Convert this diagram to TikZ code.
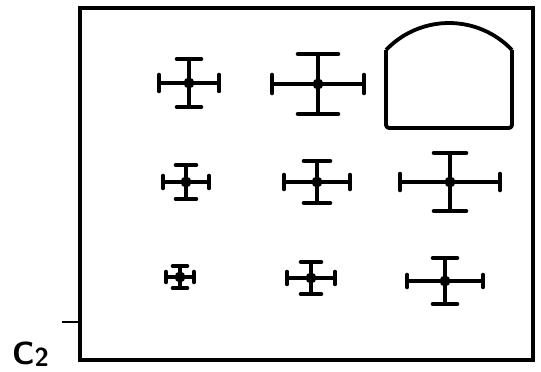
\documentclass[tikz,border=0pt]{standalone}
\begin{document}
\begin{tikzpicture}[x=1pt,y=-1pt,
  armline/.style={line width=3.4pt,line cap=round},
  capline/.style={line width=4.6pt,line cap=round},
  frameline/.style={line width=4.8pt},
  archline/.style={line width=3.8pt,line join=round}]
\useasboundingbox (0,0) rectangle (541,372);
% cross: x, y, half width, half height, top cap half, side cap half
\newcommand{\xcross}[6]{%
  \draw[armline] (#1-#3,#2) -- (#1+#3,#2);
  \draw[armline] (#1,#2-#4) -- (#1,#2+#4);
  \draw[capline] (#1-#5,#2-#4) -- (#1+#5,#2-#4);
  \draw[capline] (#1-#5,#2+#4) -- (#1+#5,#2+#4);
  \draw[capline] (#1-#3,#2-#6) -- (#1-#3,#2+#6);
  \draw[capline] (#1+#3,#2-#6) -- (#1+#3,#2+#6);
  \fill (#1,#2) circle (5.5);
}
\draw[frameline] (80,8) rectangle (533,360);
\draw[line width=1.2pt] (62,322) -- (78,322);
\node[anchor=base west,inner sep=0pt,font=\fontsize{32}{32}\selectfont\sffamily\bfseries] (lbl) at (12,364) {C\raisebox{-0.2ex}{\fontsize{26}{26}\selectfont 2}};
% arch
\draw[archline,rounded corners=3pt] (386,50) -- (386,128) -- (512,128) -- (512,50);
\draw[archline] (386,50) arc[start angle=223.6,end angle=316.4,radius=87];
% crosses
\xcross{189}{83}{30}{24}{12}{8}
\xcross{318}{84}{46}{30}{20}{9}
\xcross{186}{182}{23}{17}{10}{6}
\xcross{317}{182}{33}{21}{13}{7}
\xcross{450}{182}{50}{29}{16}{8}
\xcross{180}{277}{14}{11}{7}{5}
\xcross{311}{278}{24}{16}{10}{6}
\xcross{445}{281}{38}{23}{12}{6}
\end{tikzpicture}
\end{document}
